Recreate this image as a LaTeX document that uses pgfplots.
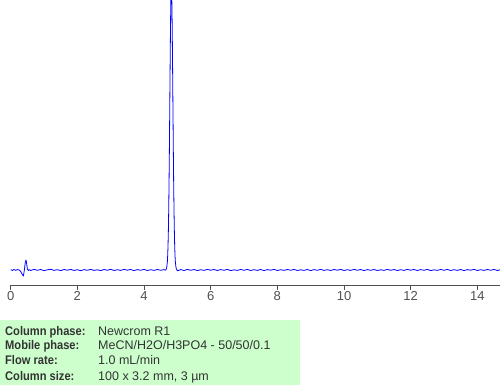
\documentclass[border=0pt]{standalone}
\usepackage{pgfplots}
\pgfplotsset{compat=1.18}
\usepackage{fontspec}
\setmainfont{Liberation Sans}
\newfontfamily\labelfont[FakeStretch=0.89]{Liberation Sans}
\definecolor{boxgreen}{RGB}{204,255,204}
\definecolor{txtgray}{RGB}{51,51,51}
\definecolor{axgray}{RGB}{80,80,80}
\begin{document}
\begin{tikzpicture}[x=1pt,y=1pt]
\useasboundingbox (0,0) rectangle (500,385);
\begin{axis}[
  at={(10.7pt,100pt)}, anchor=south west,
  scale only axis, width=489.3pt, height=285pt,
  xmin=0, xmax=14.68, ymin=-15, ymax=270,
  axis x line=bottom, axis y line=none,
  x axis line style={-, draw=axgray, line width=0.9pt},
  xtick={0,2,...,14}, xtick align=outside, major tick length=5pt,
  tick style={draw=axgray, line width=0.9pt},
  xticklabel style={font=\fontsize{13}{13}\selectfont, text=axgray, inner sep=1pt},
  /pgf/number format/assume math mode=true,
  clip=true,
]
\addplot[blue, line width=0.8pt, line join=round, no markers] coordinates {
(0.00,0.3) (0.05,-0.4) (0.10,0.5) (0.15,-0.3) (0.20,0.4) (0.26,0) (0.30,-1.5) (0.34,-4) (0.38,-6)
(0.41,0) (0.44,8) (0.46,10) (0.48,6) (0.50,1) (0.53,-0.5) (0.56,0.4) (0.60,-0.5)
(0.7,0.6) (0.8,-0.3) (0.9,0.5) (1.0,-0.6) (1.1,0.2) (1.2,0.7) (1.3,-0.4) (1.4,0.3) (1.5,-0.6)
(1.6,0.5) (1.7,-0.2) (1.8,0.6) (1.9,-0.5) (2.0,0.3) (2.1,-0.7) (2.2,0.4) (2.3,-0.3) (2.4,0.6)
(2.5,-0.4) (2.6,0.2) (2.7,-0.6) (2.8,0.5) (2.9,-0.3) (3.0,0.7) (3.1,-0.5) (3.2,0.3) (3.3,-0.4)
(3.4,0.6) (3.5,-0.2) (3.6,0.5) (3.7,-0.6) (3.8,0.4) (3.9,-0.3) (4.0,0.6) (4.1,-0.5) (4.2,0.3)
(4.3,-0.4) (4.4,0.5) (4.5,-0.3) (4.6,0.4) (4.65,-0.2)
(4.66,0.5) (4.68,2.3) (4.70,8.1) (4.71,14.4) (4.72,24.1) (4.73,38.6) (4.74,58.7) (4.75,85)
(4.76,117) (4.77,154) (4.78,192) (4.79,228) (4.80,258) (4.81,278) (4.82,285) (4.83,278)
(4.84,258) (4.85,228) (4.86,192) (4.87,154) (4.88,117) (4.89,85) (4.90,58.7) (4.91,38.6)
(4.92,24.1) (4.93,14.4) (4.94,8.1) (4.96,2.3) (4.98,0.5) (5.00,-0.8) (5.05,-0.3)
(5.1,0.4) (5.2,-0.5) (5.3,0.6) (5.4,-0.3) (5.5,0.5) (5.6,-0.6) (5.7,0.3) (5.8,-0.4) (5.9,0.6)
(6.0,-0.2) (6.1,0.5) (6.2,-0.5) (6.3,0.4) (6.4,-0.3) (6.5,0.6) (6.6,-0.6) (6.7,0.2) (6.8,-0.4)
(6.9,0.5) (7.0,-0.3) (7.1,0.6) (7.2,-0.5) (7.3,0.3) (7.4,-0.4) (7.5,0.5) (7.6,-0.6) (7.7,0.4)
(7.8,-0.2) (7.9,0.6) (8.0,-0.5) (8.1,0.3) (8.2,-0.4) (8.3,0.5) (8.4,-0.3) (8.5,0.6) (8.6,-0.5)
(8.7,0.2) (8.8,-0.4) (8.9,0.5) (9.0,-0.6) (9.1,0.4) (9.2,-0.3) (9.3,0.6) (9.4,-0.4) (9.5,0.3)
(9.6,-0.5) (9.7,0.5) (9.8,-0.2) (9.9,0.6) (10.0,-0.5) (10.1,0.3) (10.2,-0.4) (10.3,0.6) (10.4,-0.3)
(10.5,0.5) (10.6,-0.6) (10.7,0.4) (10.8,-0.3) (10.9,0.5) (11.0,-0.5) (11.1,0.2) (11.2,-0.4)
(11.3,0.6) (11.4,-0.3) (11.5,0.5) (11.6,-0.6) (11.7,0.3) (11.8,-0.4) (11.9,0.6) (12.0,-0.2)
(12.1,0.5) (12.2,-0.5) (12.3,0.4) (12.4,-0.3) (12.5,0.6) (12.6,-0.6) (12.7,0.2) (12.8,-0.4)
(12.9,0.5) (13.0,-0.3) (13.1,0.6) (13.2,-0.5) (13.3,0.3) (13.4,-0.4) (13.5,0.5) (13.6,-0.6)
(13.7,0.4) (13.8,-0.2) (13.9,0.6) (14.0,-0.5) (14.1,0.3) (14.2,-0.4) (14.3,0.5) (14.4,-0.3)
(14.5,0.6) (14.6,-0.5) (14.7,0.3)
};
\end{axis}
\fill[boxgreen] (0,0) rectangle (300,65);
\begin{scope}[every node/.style={inner sep=0pt, anchor=base west, text=txtgray, font=\fontsize{12.5}{12.5}\selectfont}]
\node[font=\fontsize{12.5}{12.5}\selectfont\labelfont\bfseries] at (5,49) {Column phase:};
\node[font=\fontsize{12.5}{12.5}\selectfont\labelfont\bfseries] at (5,35) {Mobile phase:};
\node[font=\fontsize{12.5}{12.5}\selectfont\labelfont\bfseries] at (5,20) {Flow rate:};
\node[font=\fontsize{12.5}{12.5}\selectfont\labelfont\bfseries] at (5,5) {Column size:};
\node at (98,49) {Newcrom R1};
\node at (98,35) {MeCN/H2O/H3PO4 - 50/50/0.1};
\node at (98,20) {1.0 mL/min};
\node at (98,5) {100 x 3.2 mm, 3 µm};
\end{scope}
\end{tikzpicture}
\end{document}
